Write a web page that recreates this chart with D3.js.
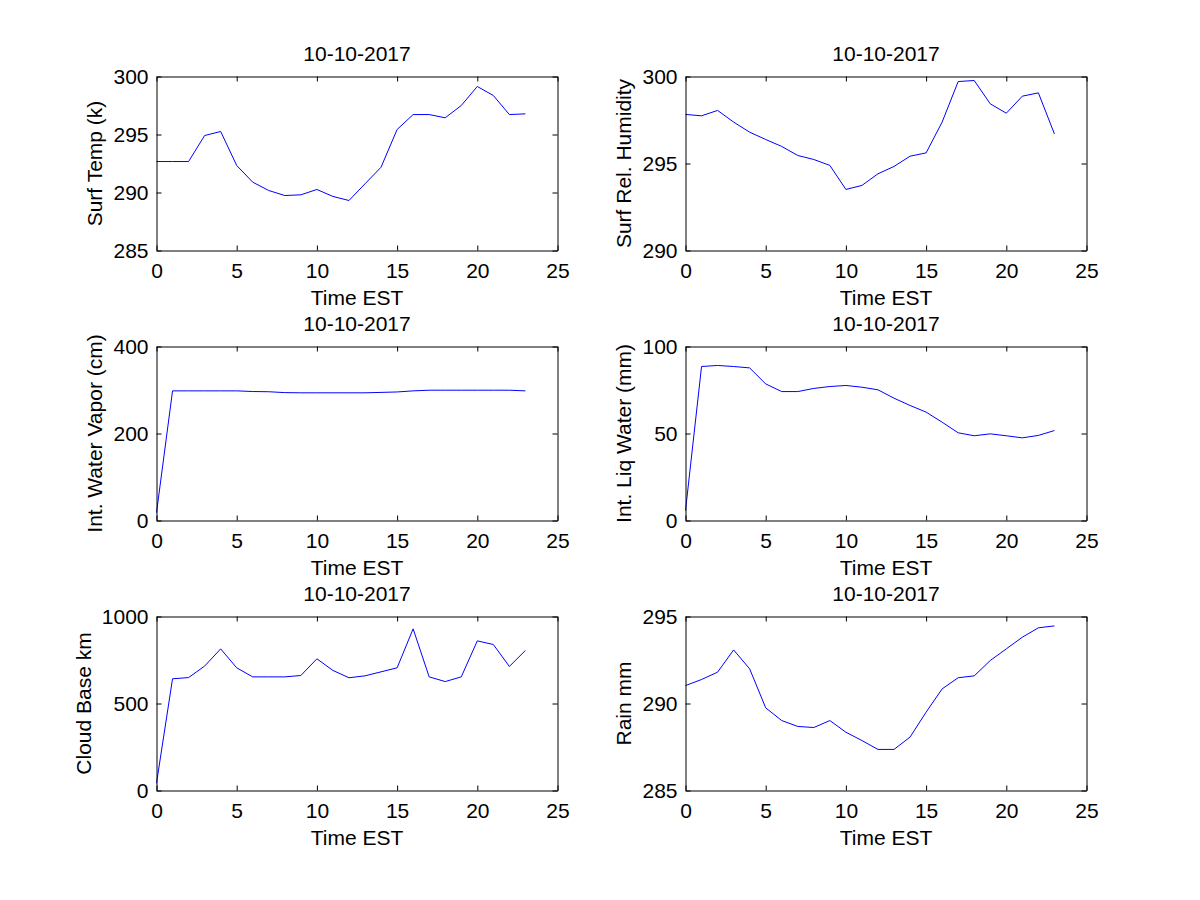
<!doctype html>
<html>
<head>
<meta charset="UTF-8">
<title>10-10-2017</title>
<script src="https://d3js.org/d3.v7.min.js"></script>
<style>
  body { margin: 0; background: #fff; }
  text { font-family: "Liberation Sans", Arial, sans-serif; }
</style>
</head>
<body>
<svg width="1200" height="900"></svg>
<script>
// hours of the day
var hours = [0,1,2,3,4,5,6,7,8,9,10,11,12,13,14,15,16,17,18,19,20,21,22,23];
var xTicks = [0,5,10,15,20,25];
var dateTitle = "10-10-2017";
var xLabel = "Time EST";

var surfTemp = [292.67,292.67,292.67,294.91,295.26,292.33,290.89,290.17,289.74,289.8,290.26,289.66,
                289.31,290.75,292.18,295.43,296.72,296.72,296.44,297.5,299.14,298.36,296.72,296.78];
var surfHum = [297.82,297.74,298.05,297.38,296.8,296.38,295.98,295.46,295.23,294.89,293.51,293.74,
               294.41,294.83,295.42,295.61,297.38,299.71,299.77,298.43,297.89,298.87,299.06,296.7];
var waterVapor = [18,298,298,298,298,298,296.5,296,294,293.5,293.5,293.5,
                  293.5,293.5,294.5,295.5,298,299.5,299.5,299.5,299.5,299.5,299.5,298];
var liqWater = [5.7,88.5,89.1,88.5,87.7,78.5,74.1,74.1,75.9,77.0,77.6,76.6,
                75.1,70.3,66.1,62.3,56.5,50.4,48.7,49.8,48.7,47.5,48.9,51.7];
var cloudBase = [42,642,649,715,814,705,653,653,653,661,757,690,
                 648,659,682,705,929,653,626,653,860,839,713,805];
var rain = [291.03,291.38,291.8,293.08,291.99,289.75,289.02,288.68,288.62,289.02,288.35,287.87,
            287.36,287.36,288.07,289.5,290.84,291.48,291.59,292.47,293.14,293.81,294.35,294.46];

var yLabels = ["Surf Temp (k)", "Surf Rel. Humidity", "Int. Water Vapor (cm)",
               "Int. Liq Water (mm)", "Cloud Base km", "Rain mm"];
var yTicks = [[285,290,295,300],[290,295,300],[0,200,400],[0,50,100],[0,500,1000],[285,290,295]];
var series = [surfTemp, surfHum, waterVapor, liqWater, cloudBase, rain];

var colLeft = [156, 685], rowTop = [76, 346, 616];
var W = 401, H = 174, fs = 21;

var svg = d3.select("svg");

series.forEach(function(vals, k){
  var yt = yTicks[k];
  var g = svg.append("g")
    .attr("transform", "translate(" + (colLeft[k % 2] + 0.5) + "," + (rowTop[Math.floor(k / 2)] + 0.5) + ")");

  var x = d3.scaleLinear().domain([0, 25]).range([0, W]);
  var y = d3.scaleLinear().domain([yt[0], yt[yt.length - 1]]).range([H, 0]);

  // line
  var line = d3.line().x(function(d, i){ return x(hours[i]); }).y(function(d){ return y(d); });
  g.append("path").datum(vals)
    .attr("d", line)
    .attr("fill", "none")
    .attr("stroke", "#0000ff")
    .attr("stroke-width", 1);

  // axes with inside ticks, box all round
  var ax = [
    [d3.axisBottom(x).tickValues(xTicks).tickPadding(13), "translate(0," + H + ")", true],
    [d3.axisTop(x).tickValues(xTicks), "translate(0,0)", false],
    [d3.axisLeft(y).tickValues(yt).tickPadding(8), "translate(0,0)", true],
    [d3.axisRight(y).tickValues(yt), "translate(" + W + ",0)", false]
  ];
  ax.forEach(function(a){
    var s = g.append("g").attr("transform", a[1])
      .call(a[0].tickSizeInner(-5).tickSizeOuter(0).tickFormat(a[2] ? d3.format("d") : ""));
    s.selectAll("path, line").attr("stroke", "#000");
    s.selectAll("text").attr("font-size", fs).attr("fill", "#000")
      .attr("font-family", "Liberation Sans, Arial, sans-serif");
  });

  // title
  g.append("text")
    .attr("x", W / 2).attr("y", -16)
    .attr("text-anchor", "middle")
    .attr("font-size", fs)
    .text(dateTitle);

  // x label
  g.append("text")
    .attr("x", W / 2).attr("y", H + 54)
    .attr("text-anchor", "middle")
    .attr("font-size", fs)
    .text(xLabel);

  // y label, placed left of the widest tick label
  var maxLen = d3.max(yt, function(v){ return String(v).length; });
  var lx = -8 - maxLen * fs * 0.556 - 11;
  g.append("text")
    .attr("transform", "translate(" + lx + "," + (H / 2) + ") rotate(-90)")
    .attr("text-anchor", "middle")
    .attr("font-size", fs)
    .text(yLabels[k]);
});
</script>
</body>
</html>
